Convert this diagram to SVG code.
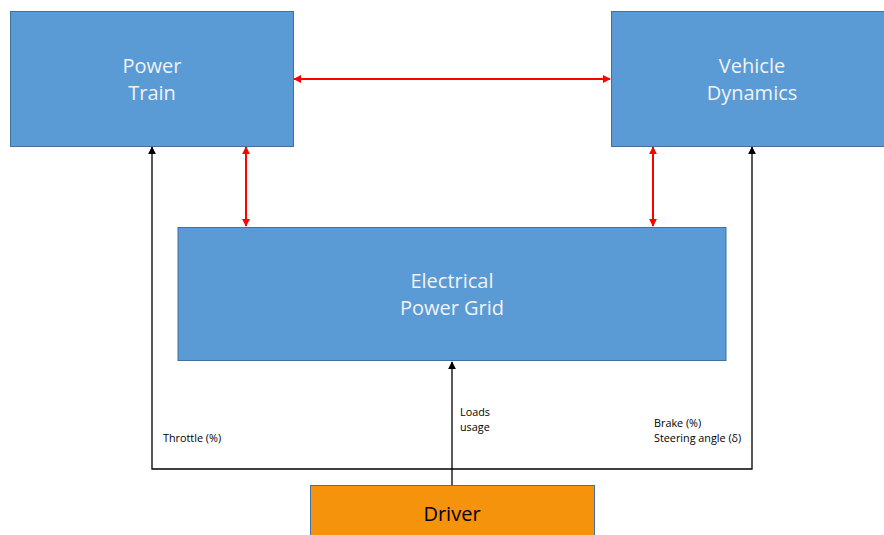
<svg xmlns="http://www.w3.org/2000/svg" width="884" height="535" viewBox="0 0 884 535">
<defs>
<style>
.box{fill:#5b9bd5;stroke:#41719c;stroke-width:1}
.drv{fill:#f5930c;stroke:#41719c;stroke-width:1}
.t{font-family:"Open Sans","Liberation Sans",sans-serif;font-size:20px;fill:#f2f2f2;text-anchor:middle}
.td{font-family:"Open Sans","Liberation Sans",sans-serif;font-size:20px;fill:#000;text-anchor:middle}
.s{font-family:"Open Sans","Liberation Sans",sans-serif;font-size:10.8px;fill:#000}
.red{stroke:#ff0000;stroke-width:2;fill:none}
.blk{stroke:#000;stroke-width:1.3;fill:none}
</style>
<marker id="ra" viewBox="0 0 10 10" refX="9" refY="5" markerWidth="4" markerHeight="4" orient="auto-start-reverse"><path d="M0,0L10,5L0,10z" fill="#ff0000"/></marker>
<marker id="ba" viewBox="0 0 10 10" refX="9" refY="5" markerWidth="6" markerHeight="6" orient="auto"><path d="M0,0L10,5L0,10z" fill="#000"/></marker>
</defs>
<rect width="884" height="535" fill="#fff"/>
<g id="connectors">
<line class="red" x1="294" y1="79" x2="610" y2="79" marker-start="url(#ra)" marker-end="url(#ra)"/>
<line class="red" x1="246" y1="147" x2="246" y2="226" marker-start="url(#ra)" marker-end="url(#ra)"/>
<line class="red" x1="653" y1="147" x2="653" y2="226" marker-start="url(#ra)" marker-end="url(#ra)"/>
<polyline class="blk" points="452,469 152,469 152,147" marker-end="url(#ba)"/>
<polyline class="blk" points="452,469 752,469 752,147" marker-end="url(#ba)"/>
<line class="blk" x1="452" y1="485" x2="452" y2="362" marker-end="url(#ba)"/>
<text class="s" x="163" y="442">Throttle (%)</text>
<text class="s" x="460" y="416">Loads</text>
<text class="s" x="460" y="431">usage</text>
<text class="s" x="654" y="427">Brake (%)</text>
<text class="s" x="654" y="442">Steering angle (δ)</text>
</g>
<g id="power-train">
<rect class="box" x="10.5" y="11.5" width="283" height="135"/>
<text class="t" x="152" y="73">Power</text>
<text class="t" x="152" y="100">Train</text>
</g>
<g id="vehicle-dynamics">
<rect class="box" x="611.5" y="11.5" width="273" height="135"/>
<text class="t" x="752" y="73">Vehicle</text>
<text class="t" x="752" y="100">Dynamics</text>
</g>
<g id="electrical-power-grid">
<rect class="box" x="178" y="227.5" width="548" height="133"/>
<text class="t" x="452" y="288">Electrical</text>
<text class="t" x="452" y="315">Power Grid</text>
</g>
<g id="driver">
<rect class="drv" x="310.5" y="485.5" width="284" height="55"/>
<text class="td" x="452" y="521">Driver</text>
</g>
</svg>
